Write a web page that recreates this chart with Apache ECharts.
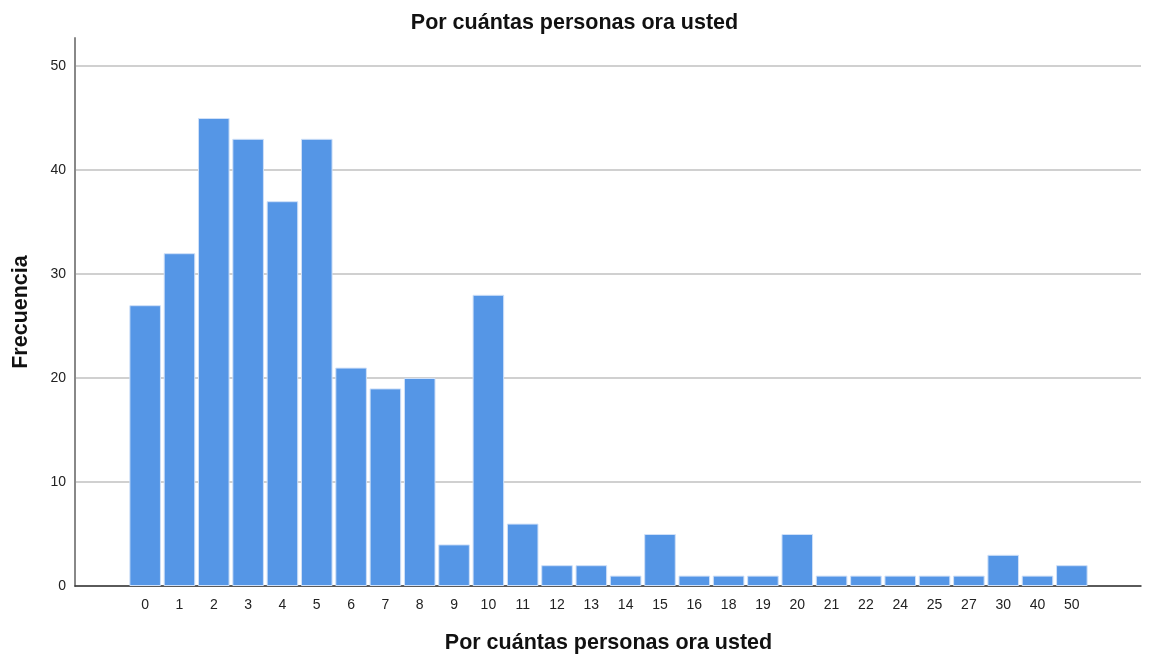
<!DOCTYPE html>
<html><head><meta charset="utf-8">
<script src="https://cdn.jsdelivr.net/npm/echarts@6/dist/echarts.min.js"></script>
<style>html,body{margin:0;padding:0;background:#fff}#c{width:1149px;height:660px}</style>
</head><body><div id="c"></div>
<script>
const categories = ['0','1','2','3','4','5','6','7','8','9','10','11','12','13','14','15','16','18','19','20','21','22','24','25','27','30','40','50'];
const frequencies = [27,32,45,43,37,43,21,19,20,4,28,6,2,2,1,5,1,1,1,5,1,1,1,1,1,3,1,2];
const yTicks = [0,10,20,30,40,50];
const titleText = 'Por cuántas personas ora usted';
const xName = 'Por cuántas personas ora usted';
const yName = 'Frecuencia';

const chart = echarts.init(document.getElementById('c'));
const font = 'Liberation Sans, Arial, sans-serif';
chart.setOption({
  animation: false,
  title: { text: titleText, left: 'center', top: 7,
    textStyle: { fontFamily: font, fontSize: 21.5, fontWeight: 'bold', color: '#111' } },
  grid: [
    { left: 75, right: 8, top: 38, bottom: 74, outerBoundsMode: 'none', containLabel: false },
    { left: 75, right: 8, top: 66, bottom: 74, outerBoundsMode: 'none', containLabel: false },
    { left: 128, right: 60, top: 66, bottom: 74, outerBoundsMode: 'none', containLabel: false }
  ],
  xAxis: [
    { gridIndex: 0, type: 'value', min: 0, max: 1, axisLine: { show: true, onZero: false, lineStyle: { color: '#333', width: 1.5 } },
      axisTick: { show: false }, axisLabel: { show: false }, splitLine: { show: false } },
    { gridIndex: 1, type: 'value', min: 0, max: 1, show: false },
    { gridIndex: 2, type: 'category', data: categories,
      axisLine: { show: false }, axisTick: { show: false },
      axisLabel: { margin: 12, fontFamily: font, fontSize: 14, color: '#222', interval: 0 },
      name: xName, nameLocation: 'middle', nameGap: 46,
      nameTextStyle: { fontFamily: font, fontSize: 21.5, fontWeight: 'bold', color: '#111' } }
  ],
  yAxis: [
    { gridIndex: 0, type: 'value', min: 0, max: 1, axisLine: { show: true, onZero: false, lineStyle: { color: '#888', width: 2 } },
      axisTick: { show: false }, axisLabel: { show: false }, splitLine: { show: false },
      name: yName, nameLocation: 'middle', nameGap: 43, nameRotate: 90,
      nameTextStyle: { fontFamily: font, fontSize: 21.5, fontWeight: 'bold', color: '#111' } },
    { gridIndex: 1, type: 'value', min: yTicks[0], max: yTicks[yTicks.length - 1], interval: 10,
      axisLine: { show: false }, axisTick: { show: false },
      axisLabel: { margin: 9, fontFamily: font, fontSize: 14, color: '#222' },
      splitLine: { show: true, lineStyle: { color: '#d0d0d0', width: 2 } } },
    { gridIndex: 2, type: 'value', min: yTicks[0], max: yTicks[yTicks.length - 1], show: false }
  ],
  series: [{
    type: 'bar', xAxisIndex: 2, yAxisIndex: 2, data: frequencies,
    barCategoryGap: '8%',
    itemStyle: { color: '#5596e6', borderColor: '#cfe0f8', borderWidth: 1 }
  }]
});
</script></body></html>
